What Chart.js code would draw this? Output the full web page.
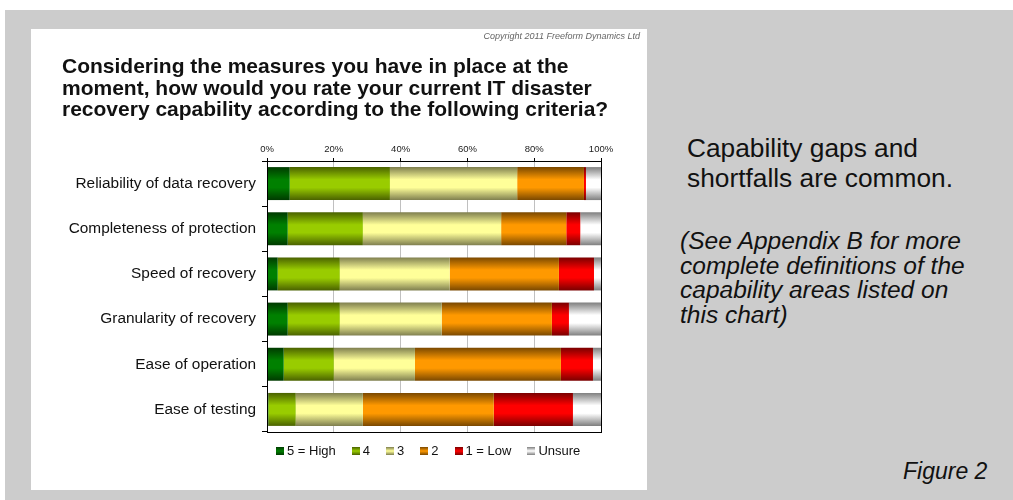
<!DOCTYPE html>
<html>
<head>
<meta charset="utf-8">
<script src="https://cdn.jsdelivr.net/npm/chart.js@4.4.1/dist/chart.umd.min.js"></script>
<style>
  html, body { margin: 0; padding: 0; background: #ffffff; }
  body { width: 1013px; height: 500px; position: relative; overflow: hidden; font-family: "Liberation Sans", Arial, sans-serif; }
  .panel { position: absolute; left: 5px; top: 10px; width: 1008px; height: 490px; background: #cccccc; }
  .card { position: absolute; left: 31px; top: 29px; width: 616px; height: 461px; background: #ffffff; }
  .card canvas { position: absolute; left: 0; top: 0; }
  .copy { position: absolute; right: 7px; top: 2px; font-size: 9px; font-style: italic; color: #666; }
  .title { position: absolute; left: 31px; top: 26px; width: 580px; font-size: 21px; line-height: 21.5px; font-weight: bold; color: #111; }
  .legend { position: absolute; left: 245px; top: 414px; display: flex; gap: 16px; font-size: 13px; line-height: 16px; color: #111; white-space: nowrap; }
  .legend span.item { display: flex; align-items: center; }
  .legend span.box { display: inline-block; width: 8px; height: 8px; margin-right: 3px; }
  .lead { position: absolute; left: 687px; top: 133px; font-size: 26.3px; line-height: 30px; color: #111; }
  .note { position: absolute; left: 680px; top: 229px; font-size: 24.5px; line-height: 24.7px; font-style: italic; color: #111; }
  .fig { position: absolute; left: 903px; top: 458px; font-size: 23px; font-style: italic; color: #111; }
</style>
</head>
<body>
<div class="panel"></div>
<div class="card">
  <canvas id="chart" width="616" height="461"></canvas>
  <div class="copy">Copyright 2011 Freeform Dynamics Ltd</div>
  <div class="title">Considering the measures you have in place at the moment, how would you rate your current IT disaster recovery capability according to the following criteria?</div>
  <div class="legend" id="legend"></div>
</div>
<div class="lead">Capability gaps and<br>shortfalls are common.</div>
<div class="note">(See Appendix B for more<br>complete definitions of the<br>capability areas listed on<br>this chart)</div>
<div class="fig">Figure 2</div>
<script>
const categories = [
  "Reliability of data recovery",
  "Completeness of protection",
  "Speed of recovery",
  "Granularity of recovery",
  "Ease of operation",
  "Ease of testing",
];
const seriesNames = ["5 = High", "4", "3", "2", "1 = Low", "Unsure"];
const high5 = [6.8, 6.2, 3.2, 6.2, 5.0, 0.4];
const rate4 = [30.0, 22.5, 18.6, 15.6, 15.0, 8.2];
const rate3 = [38.1, 41.4, 32.9, 30.5, 24.3, 20.1];
const rate2 = [20.0, 19.5, 32.7, 33.0, 43.7, 39.2];
const low1 = [0.6, 4.2, 10.5, 5.1, 9.6, 23.7];
const unsure = [4.5, 6.3, 2.1, 9.6, 2.4, 8.4];
const xTicks = [0, 20, 40, 60, 80, 100];

// [bright centre, dark edge]
const shades = [
  ["#008000", "#003a00"],
  ["#99cc00", "#4a6200"],
  ["#ffff99", "#7f7f4f"],
  ["#ff9900", "#7a4800"],
  ["#ff0000", "#7a0000"],
  ["#ffffff", "#7f7f7f"],
];

const BAR_PCT = 0.73;

const barFill = (i) => (ctx) => {
  const chart = ctx.chart;
  const y = chart.scales.y;
  if (!chart.chartArea || !y || ctx.dataIndex === undefined) return shades[i][0];
  const mid = y.getPixelForValue(ctx.dataIndex);
  const half = (y.height / categories.length) * BAR_PCT / 2;
  const g = chart.ctx.createLinearGradient(0, mid - half, 0, mid + half);
  g.addColorStop(0, shades[i][1]);
  g.addColorStop(0.38, shades[i][0]);
  g.addColorStop(0.62, shades[i][0]);
  g.addColorStop(1, shades[i][1]);
  return g;
};

const plotFrame = {
  id: "plotFrame",
  afterDatasetsDraw: (chart) => {
    const { ctx, chartArea: a } = chart;
    ctx.save();
    ctx.strokeStyle = "#000000";
    ctx.lineWidth = 1;
    ctx.strokeRect(Math.round(a.left) + 0.5, Math.round(a.top) + 0.5, Math.round(a.right - a.left), Math.round(a.bottom - a.top));
    ctx.restore();
  },
};

const allSeries = [high5, rate4, rate3, rate2, low1, unsure];

const chart = new Chart(document.getElementById("chart"), {
  type: "bar",
  data: {
    labels: categories,
    datasets: allSeries.map((values, i) => ({
      label: seriesNames[i],
      data: values,
      backgroundColor: barFill(i),
      borderWidth: 0,
      categoryPercentage: 1,
      barPercentage: BAR_PCT,
    })),
  },
  options: {
    responsive: false,
    animation: false,
    indexAxis: "y",
    layout: { padding: { top: 110, left: 0, right: 46, bottom: 58 } },
    scales: {
      x: {
        position: "top",
        stacked: true,
        min: 0,
        max: 100,
        afterBuildTicks: (s) => { s.ticks = xTicks.map((v) => ({ value: v })); },
        afterFit: (s) => { s.height = 22; },
        border: { color: "#000000" },
        grid: {
          color: (c) => (c.tick && (c.tick.value === 0 || c.tick.value === 100) ? "#000000" : "#c0c0c0"),
          tickColor: "#000000",
          tickLength: 3,
        },
        ticks: {
          padding: 3,
          color: "#222",
          font: { family: "Liberation Sans", size: 9.5 },
          callback: (v) => v + "%",
        },
      },
      y: {
        stacked: true,
        afterFit: (s) => { s.width = 236; },
        border: { color: "#000000" },
        grid: {
          offset: true,
          drawOnChartArea: false,
          color: "#000000",
          tickLength: 5,
        },
        ticks: {
          padding: 6,
          color: "#111",
          font: { family: "Liberation Sans", size: 15.4 },
        },
      },
    },
    plugins: {
      tooltip: { enabled: false },
      legend: { display: false },
    },
  },
  plugins: [plotFrame],
});

// legend row with the same shaded swatches as the bars
const legendEl = document.getElementById("legend");
chart.data.datasets.forEach((ds, i) => {
  const item = document.createElement("span");
  item.className = "item";
  const box = document.createElement("span");
  box.className = "box";
  box.style.background = `linear-gradient(${shades[i][1]}, ${shades[i][0]} 50%, ${shades[i][1]})`;
  item.appendChild(box);
  item.appendChild(document.createTextNode(ds.label));
  legendEl.appendChild(item);
});
</script>
</body>
</html>
